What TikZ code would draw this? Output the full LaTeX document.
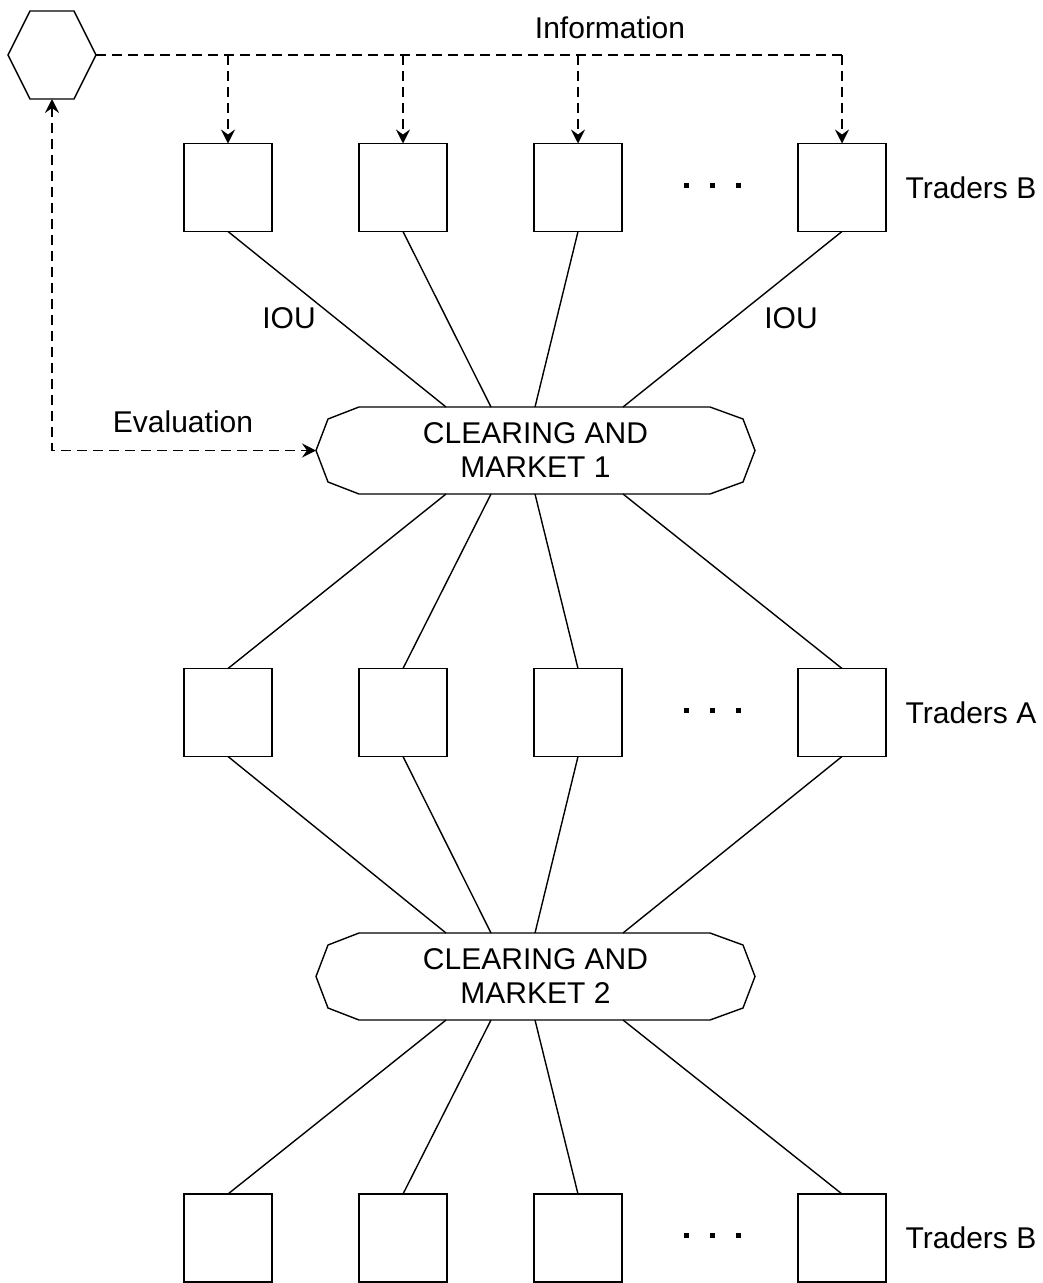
\documentclass[tikz,border=0pt]{standalone}
\usepackage{fontspec}
\setmainfont{Liberation Sans}
\usetikzlibrary{arrows.meta,calc}
\begin{document}
\begin{tikzpicture}[x=1pt,y=-1pt,
  every node/.style={font=\fontsize{30}{34}\selectfont, outer sep=0pt},
  trader/.style={draw, line width=1.4pt, minimum width=88pt, minimum height=88pt, inner sep=0pt},
  clear/.style={minimum width=439pt, minimum height=87pt, inner sep=0pt, align=center},
  hexbox/.style={minimum width=88pt, minimum height=88pt, inner sep=0pt},
  dotbox/.style={fill, minimum size=5pt, inner sep=0pt},
  lbl/.style={inner sep=0pt},
  link/.style={line width=1.4pt},
  dashlink/.style={line width=1.4pt, dash pattern=on 10pt off 6pt},
  tip/.style={-{Stealth[length=14pt,width=14pt,inset=5pt]}}
]
\useasboundingbox (0,0) rectangle (1043,1283);

% hexagon
\node[hexbox] (hex) at (52,55) {};
\draw[link] (hex.west) -- ([xshift=22pt]hex.north west) -- ([xshift=-22pt]hex.north east)
  -- (hex.east) -- ([xshift=-22pt]hex.south east) -- ([xshift=22pt]hex.south west) -- cycle;

% traders rows
\foreach \r/\y in {t/187.5, m/712.5, b/1238}{
  \node[trader] (\r1) at (228,\y) {};
  \node[trader] (\r2) at (403,\y) {};
  \node[trader] (\r3) at (578,\y) {};
  \node[trader] (\r4) at (842,\y) {};
  \node[dotbox] (\r d1) at (686,\y-2.5) {};
  \node[dotbox] (\r d2) at (712,\y-2.5) {};
  \node[dotbox] (\r d3) at (738,\y-2.5) {};
}
\node[lbl] (labt) at (971,187.5) {Traders B};
\node[lbl] (labm) at (971,712.5) {Traders A};
\node[lbl] (labb) at (971,1238) {Traders B};

% clearing nodes
\node[clear] (c1) at (535.5,450.5) {CLEARING AND\\MARKET 1};
\node[clear] (c2) at (535.5,976.5) {CLEARING AND\\MARKET 2};
\foreach \c in {c1,c2}{
  \draw[link] (\c.west) -- ([shift={(12pt,-12pt)}]\c.north west) -- ([xshift=43pt]\c.north west)
    -- ([xshift=-45pt]\c.north east) -- ([shift={(-12pt,-12pt)}]\c.north east) -- (\c.east)
    -- ([shift={(-12pt,12pt)}]\c.south east) -- ([xshift=-45pt]\c.south east)
    -- ([xshift=43pt]\c.south west) -- ([shift={(12pt,12pt)}]\c.south west) -- cycle;
  \coordinate (\c n1) at ([xshift=130pt]\c.north west);
  \coordinate (\c n2) at ([xshift=175pt]\c.north west);
  \coordinate (\c n3) at ([xshift=219pt]\c.north west);
  \coordinate (\c n4) at ([xshift=307pt]\c.north west);
  \coordinate (\c s1) at ([xshift=130pt]\c.south west);
  \coordinate (\c s2) at ([xshift=175pt]\c.south west);
  \coordinate (\c s3) at ([xshift=219pt]\c.south west);
  \coordinate (\c s4) at ([xshift=307pt]\c.south west);
}

% links
\foreach \i in {1,2,3,4}{
  \draw[link] (t\i.south) -- (c1n\i);
  \draw[link] (c1s\i) -- (m\i.north);
  \draw[link] (m\i.south) -- (c2n\i);
  \draw[link] (c2s\i) -- (b\i.north);
}

% IOU labels
\node[lbl] (iou1) at (289,318) {IOU};
\node[lbl] (iou2) at (791,318) {IOU};

% information
\draw[dashlink] (hex.east) -- (hex.east -| t4.north);
\foreach \i in {1,2,3,4}{
  \draw[dashlink,tip] (hex.east -| t\i.north) -- (t\i.north);
}
\node[lbl] (info) at (610,28) {Information};

% evaluation
\draw[dashlink,{Stealth[length=14pt,width=14pt,inset=5pt]}-{Stealth[length=14pt,width=14pt,inset=5pt]}]
  (hex.south) -- (hex.south |- c1.west) -- (c1.west);
\node[lbl] (eval) at (183,422) {Evaluation};
\end{tikzpicture}
\end{document}
